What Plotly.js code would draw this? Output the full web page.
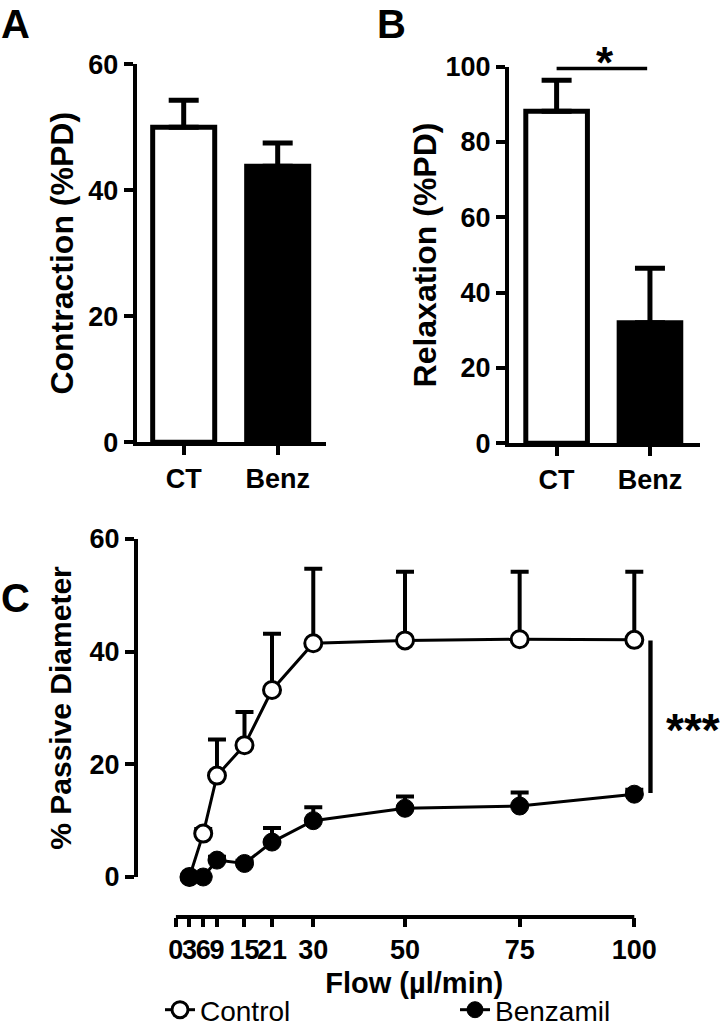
<!DOCTYPE html>
<html><head><meta charset="utf-8">
<script src="https://cdn.plot.ly/plotly-3.0.1.min.js"></script>
<style>html,body{margin:0;padding:0;background:#fff}</style>
</head><body><div id="chart" style="width:725px;height:1035px"></div>
<script>
// ---- data ----
const groups = ['CT', 'Benz'];
const contraction = [50.0, 43.8];
const contractionErr = [4.3, 3.7];
const relaxation = [88.2, 32.0];
const relaxationErr = [8.2, 14.5];

const flow = [3, 6, 9, 15, 21, 30, 50, 75, 100];
const flowTicks = [0, 3, 6, 9, 15, 21, 30, 50, 75, 100];
const control = [0, 7.7, 18.0, 23.4, 33.2, 41.5, 42.0, 42.2, 42.1];
const controlErr = [0, 0.8, 6.4, 5.9, 10.0, 13.2, 12.2, 12.0, 12.1];
const benzamil = [0, 0, 3.0, 2.4, 6.2, 10.0, 12.2, 12.6, 14.7];
const benzamilErr = [0, 0, 0.6, 0.5, 2.5, 2.4, 2.1, 2.4, 0.8];
const seriesNames = ['Control', 'Benzamil'];

// ---- layout helpers ----
const W = 725, H = 1035;
const px = x => x / W;
const py = y => 1 - y / H;
const FONT = 'Liberation Sans, Arial, Helvetica, sans-serif';
const zeros = a => a.map(() => 0);

// panel C x scale: flow 0 at 175.7px, 100 at 634.3px
const cX0 = 175.7, cX100 = 634.3;
const cPerUnit = (cX100 - cX0) / 100;
const cRangeMax = 104;

const axisStyle = {
  showline: true, linewidth: 4, linecolor: '#000',
  ticks: 'outside', ticklen: 9, tickwidth: 4, tickcolor: '#000',
  tickfont: {family: FONT, size: 27, color: '#000', weight: 700},
  showgrid: false, zeroline: false, automargin: false, fixedrange: true
};
const titleFont = s => ({family: FONT, size: s, color: '#000', weight: 700});

const traces = [
  {
    type: 'bar', x: groups, y: contraction, xaxis: 'x', yaxis: 'y',
    width: 0.66, showlegend: false,
    marker: {color: ['#ffffff', '#000000'], line: {color: '#000', width: 5}},
    error_y: {type: 'data', symmetric: false, array: contractionErr, arrayminus: zeros(contractionErr),
              color: '#000', thickness: 5, width: 15}
  },
  {
    type: 'bar', x: groups, y: relaxation, xaxis: 'x2', yaxis: 'y2',
    width: 0.66, showlegend: false,
    marker: {color: ['#ffffff', '#000000'], line: {color: '#000', width: 5}},
    error_y: {type: 'data', symmetric: false, array: relaxationErr, arrayminus: zeros(relaxationErr),
              color: '#000', thickness: 5, width: 15}
  },
  {
    type: 'scatter', mode: 'lines+markers', name: seriesNames[0], legendwidth: 250,
    x: flow, y: control, xaxis: 'x3', yaxis: 'y3', cliponaxis: false,
    line: {color: '#000', width: 3},
    marker: {symbol: 'circle', size: 17, color: '#fff', line: {color: '#000', width: 3}},
    error_y: {type: 'data', symmetric: false, array: controlErr, arrayminus: zeros(controlErr),
              color: '#000', thickness: 4, width: 9}
  },
  {
    type: 'scatter', mode: 'lines+markers', name: seriesNames[1], legendwidth: 120,
    x: flow, y: benzamil, xaxis: 'x3', yaxis: 'y3', cliponaxis: false,
    line: {color: '#000', width: 3},
    marker: {symbol: 'circle', size: 18, color: '#000', line: {color: '#000', width: 1}},
    error_y: {type: 'data', symmetric: false, array: benzamilErr, arrayminus: zeros(benzamilErr),
              color: '#000', thickness: 4, width: 9}
  }
];

const layout = {
  width: W, height: H,
  margin: {l: 0, r: 0, t: 0, b: 0},
  paper_bgcolor: '#fff', plot_bgcolor: 'rgba(0,0,0,0)',
  font: {family: FONT, color: '#000'},
  xaxis: Object.assign({}, axisStyle, {
    domain: [px(136.7), px(326)], anchor: 'y', type: 'category', range: [-0.5, 1.514]
  }),
  yaxis: Object.assign({}, axisStyle, {
    domain: [py(442.3), py(64.3)], anchor: 'x', range: [0, 60], tickvals: [0, 20, 40, 60],
    title: {text: 'Contraction (%PD)', font: titleFont(32), standoff: 6}
  }),
  xaxis2: Object.assign({}, axisStyle, {
    domain: [px(509), px(700)], anchor: 'y2', type: 'category', range: [-0.51, 1.536]
  }),
  yaxis2: Object.assign({}, axisStyle, {
    domain: [py(443.3), py(66.7)], anchor: 'x2', range: [0, 100], tickvals: [0, 20, 40, 60, 80, 100],
    title: {text: 'Relaxation (%PD)', font: titleFont(32), standoff: 0}
  }),
  xaxis3: Object.assign({}, axisStyle, {
    domain: [px(cX0), px(cX0 + cRangeMax * cPerUnit)], anchor: 'free', position: py(917),
    range: [0, cRangeMax], showline: false,
    tickvals: flowTicks, tickangle: 0, ticklen: 9,
    title: {text: 'Flow (µl/min)', font: titleFont(29), standoff: 8}
  }),
  yaxis3: Object.assign({}, axisStyle, {
    domain: [py(877), py(539)], anchor: 'free', position: px(136), range: [0, 60],
    tickvals: [0, 20, 40, 60],
    title: {text: '% Passive Diameter', font: titleFont(30), standoff: 8}
  }),
  legend: {
    orientation: 'h', x: px(160), y: 0, xanchor: 'left', yanchor: 'bottom',
    font: {family: FONT, size: 28, color: '#000'}, bgcolor: 'rgba(0,0,0,0)'
  },
  shapes: [
    // x axis baseline of panel C, from flow 0 to flow 100
    {type: 'line', xref: 'x3', yref: 'paper', x0: 0, x1: 100, y0: py(917), y1: py(917),
     line: {color: '#000', width: 4}},
    {type: 'line', xref: 'x2', yref: 'y2', x0: 0, x1: 0.97, y0: 99.7, y1: 99.7,
     line: {color: '#000', width: 5}},
    {type: 'line', xref: 'x3', yref: 'y3', x0: 103.6, x1: 103.6, y0: 14.9, y1: 42.0,
     line: {color: '#000', width: 5}}
  ],
  annotations: [
    {text: 'A', xref: 'paper', yref: 'paper', x: px(15), y: 1, xanchor: 'center', yanchor: 'top',
     showarrow: false, font: titleFont(40)},
    {text: 'B', xref: 'paper', yref: 'paper', x: px(392), y: 1, xanchor: 'center', yanchor: 'top',
     showarrow: false, font: titleFont(40)},
    {text: 'C', xref: 'paper', yref: 'paper', x: px(16), y: py(598), xanchor: 'center', yanchor: 'middle',
     showarrow: false, font: titleFont(40)},
    {text: '*', xref: 'paper', yref: 'paper', x: px(605), y: py(62), xanchor: 'center', yanchor: 'middle',
     showarrow: false, font: titleFont(44)},
    {text: '***', xref: 'paper', yref: 'paper', x: px(693), y: py(730), xanchor: 'center', yanchor: 'middle',
     showarrow: false, font: titleFont(46)}
  ]
};

Plotly.newPlot('chart', traces, layout, {displayModeBar: false, staticPlot: true});
</script>
</body></html>
